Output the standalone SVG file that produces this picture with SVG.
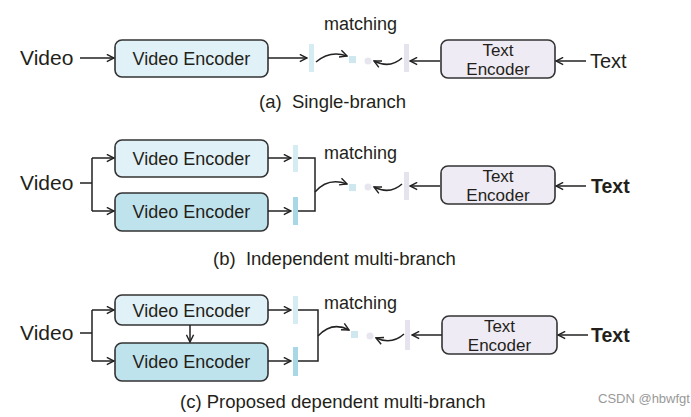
<svg xmlns="http://www.w3.org/2000/svg" width="691" height="417" viewBox="0 0 691 417">
<defs>
<marker id="ah" viewBox="0 0 10 10" refX="9" refY="5" markerWidth="9" markerHeight="9" markerUnits="userSpaceOnUse" orient="auto">
<path d="M1,1 L9,5 L1,9" fill="none" stroke="#222" stroke-width="1.6"/>
</marker>
<style>
.t{font-family:"Liberation Sans",Arial,sans-serif;fill:#241f1a}
.lbl{font-size:21px}
.enc{font-size:18px;text-anchor:middle}
.te2{font-size:17px;text-anchor:middle}
.cap{font-size:18.5px}
.m{font-size:18px}
.bold{font-weight:bold;font-size:19.5px}
.box{stroke:#333;stroke-width:1.6}
.vl{fill:#e0f1f7}
.vd{fill:#bfe3ed}
.te{fill:#efebf4}
.c{fill:none;stroke:#222;stroke-width:1.5}
.ca{fill:none;stroke:#222;stroke-width:1.5;marker-end:url(#ah)}
.bl{fill:#d5ecf3}
.bd{fill:#a8d8e5}
.bv{fill:#e6e2ee}
.sq{fill:#cfe8ef}
.ci{fill:#e7e5ee}
</style>
</defs>

<!-- Panel (a) -->
<g id="a-video"><text class="t lbl" x="20" y="65">Video</text></g>
<g id="a-venc"><rect class="box vl" x="115" y="40" width="153" height="37" rx="7"/><text class="t enc" x="191.5" y="65">Video Encoder</text></g>
<g id="a-tenc"><rect class="box te" x="441" y="40" width="114" height="38" rx="7"/><text class="t te2" x="498" y="56">Text</text><text class="t te2" x="498" y="75">Encoder</text></g>
<g id="a-text"><text class="t lbl" x="590" y="68" style="font-size:20px">Text</text></g>
<g id="a-match"><text class="t m" x="324" y="30">matching</text></g>
<g id="a-feat"><rect class="bl" x="309" y="44" width="5" height="28"/><rect class="sq" x="349" y="56" width="7" height="7"/><circle class="ci" cx="368" cy="61" r="3.5"/><rect class="bv" x="404" y="44" width="5" height="28"/></g>
<g id="a-cap"><text class="t cap" x="259" y="108" xml:space="preserve">(a)  Single-branch</text></g>
<g id="a-conn">
<path class="ca" d="M80,58 L114,58"/>
<path class="ca" d="M268,58 L307,58"/>
<path class="ca" d="M316,62 Q330,50 347,56"/>
<path class="ca" d="M402,58 Q390,69 374,61"/>
<path class="ca" d="M440,61 L410,61"/>
<path class="ca" d="M586,61 L556,61"/>
</g>

<!-- Panel (b) -->
<g id="b-video"><text class="t lbl" x="20" y="190">Video</text></g>
<g id="b-venc1"><rect class="box vl" x="115" y="140" width="153" height="37" rx="7"/><text class="t enc" x="191.5" y="165">Video Encoder</text></g>
<g id="b-venc2"><rect class="box vd" x="115" y="193" width="153" height="38" rx="7"/><text class="t enc" x="191.5" y="218">Video Encoder</text></g>
<g id="b-tenc"><rect class="box te" x="441" y="166" width="114" height="38" rx="7"/><text class="t te2" x="498" y="182">Text</text><text class="t te2" x="498" y="201">Encoder</text></g>
<g id="b-text"><text class="t bold" x="591" y="193">Text</text></g>
<g id="b-match"><text class="t m" x="324" y="159">matching</text></g>
<g id="b-feat"><rect class="bl" x="293" y="145" width="5" height="27"/><rect class="bd" x="293" y="197" width="5" height="28"/><rect class="sq" x="349" y="184" width="7" height="7"/><circle class="ci" cx="368" cy="187" r="3.5"/><rect class="bv" x="404" y="172" width="5" height="28"/></g>
<g id="b-cap"><text class="t cap" x="213" y="265" xml:space="preserve">(b)  Independent multi-branch</text></g>
<g id="b-conn">
<path class="c" d="M80,183 L92,183 M92,158 L92,211"/>
<path class="ca" d="M92,158 L114,158"/>
<path class="ca" d="M92,211 L114,211"/>
<path class="ca" d="M268,158 L291,158"/>
<path class="ca" d="M268,211 L291,211"/>
<path class="c" d="M298,158 L315,158 L315,211 L298,211"/>
<path class="ca" d="M315,192 Q328,177 347,184"/>
<path class="ca" d="M402,184 Q390,195 374,187"/>
<path class="ca" d="M440,186 L410,186"/>
<path class="ca" d="M586,186 L556,186"/>
</g>

<!-- Panel (c) -->
<g id="c-video"><text class="t lbl" x="20" y="340">Video</text></g>
<g id="c-venc1"><rect class="box vl" x="115" y="295" width="153" height="30" rx="7"/><text class="t enc" x="191.5" y="316.5">Video Encoder</text></g>
<g id="c-venc2"><rect class="box vd" x="115" y="343" width="153" height="38" rx="7"/><text class="t enc" x="191.5" y="368">Video Encoder</text></g>
<g id="c-tenc"><rect class="box te" x="442" y="316" width="115" height="38" rx="7"/><text class="t te2" x="499.5" y="332">Text</text><text class="t te2" x="499.5" y="351">Encoder</text></g>
<g id="c-text"><text class="t bold" x="591" y="342">Text</text></g>
<g id="c-match"><text class="t m" x="324" y="309">matching</text></g>
<g id="c-feat"><rect class="bl" x="293" y="296" width="5" height="28"/><rect class="bd" x="293" y="347" width="5" height="29"/><rect class="sq" x="351" y="331" width="7" height="7"/><circle class="ci" cx="370" cy="336" r="3.5"/><rect class="bv" x="405" y="320" width="5" height="30"/></g>
<g id="c-cap"><text class="t cap" x="180" y="408">(c) Proposed dependent multi-branch</text></g>
<g id="c-conn">
<path class="c" d="M80,333 L92,333 M92,310 L92,361"/>
<path class="ca" d="M92,310 L114,310"/>
<path class="ca" d="M92,361 L114,361"/>
<path class="ca" d="M190,325 L190,342"/>
<path class="ca" d="M268,310 L291,310"/>
<path class="ca" d="M268,361 L291,361"/>
<path class="c" d="M298,310 L318,310 L318,361 L298,361"/>
<path class="ca" d="M318,336 Q332,321 349,330"/>
<path class="ca" d="M404,334 Q392,345 376,338"/>
<path class="ca" d="M442,335 L412,335"/>
<path class="ca" d="M588,335 L558,335"/>
</g>

<text x="598" y="403" style="font-family:'Liberation Sans',Arial,sans-serif;font-size:13px;fill:#999">CSDN @hbwfgt</text>
</svg>
